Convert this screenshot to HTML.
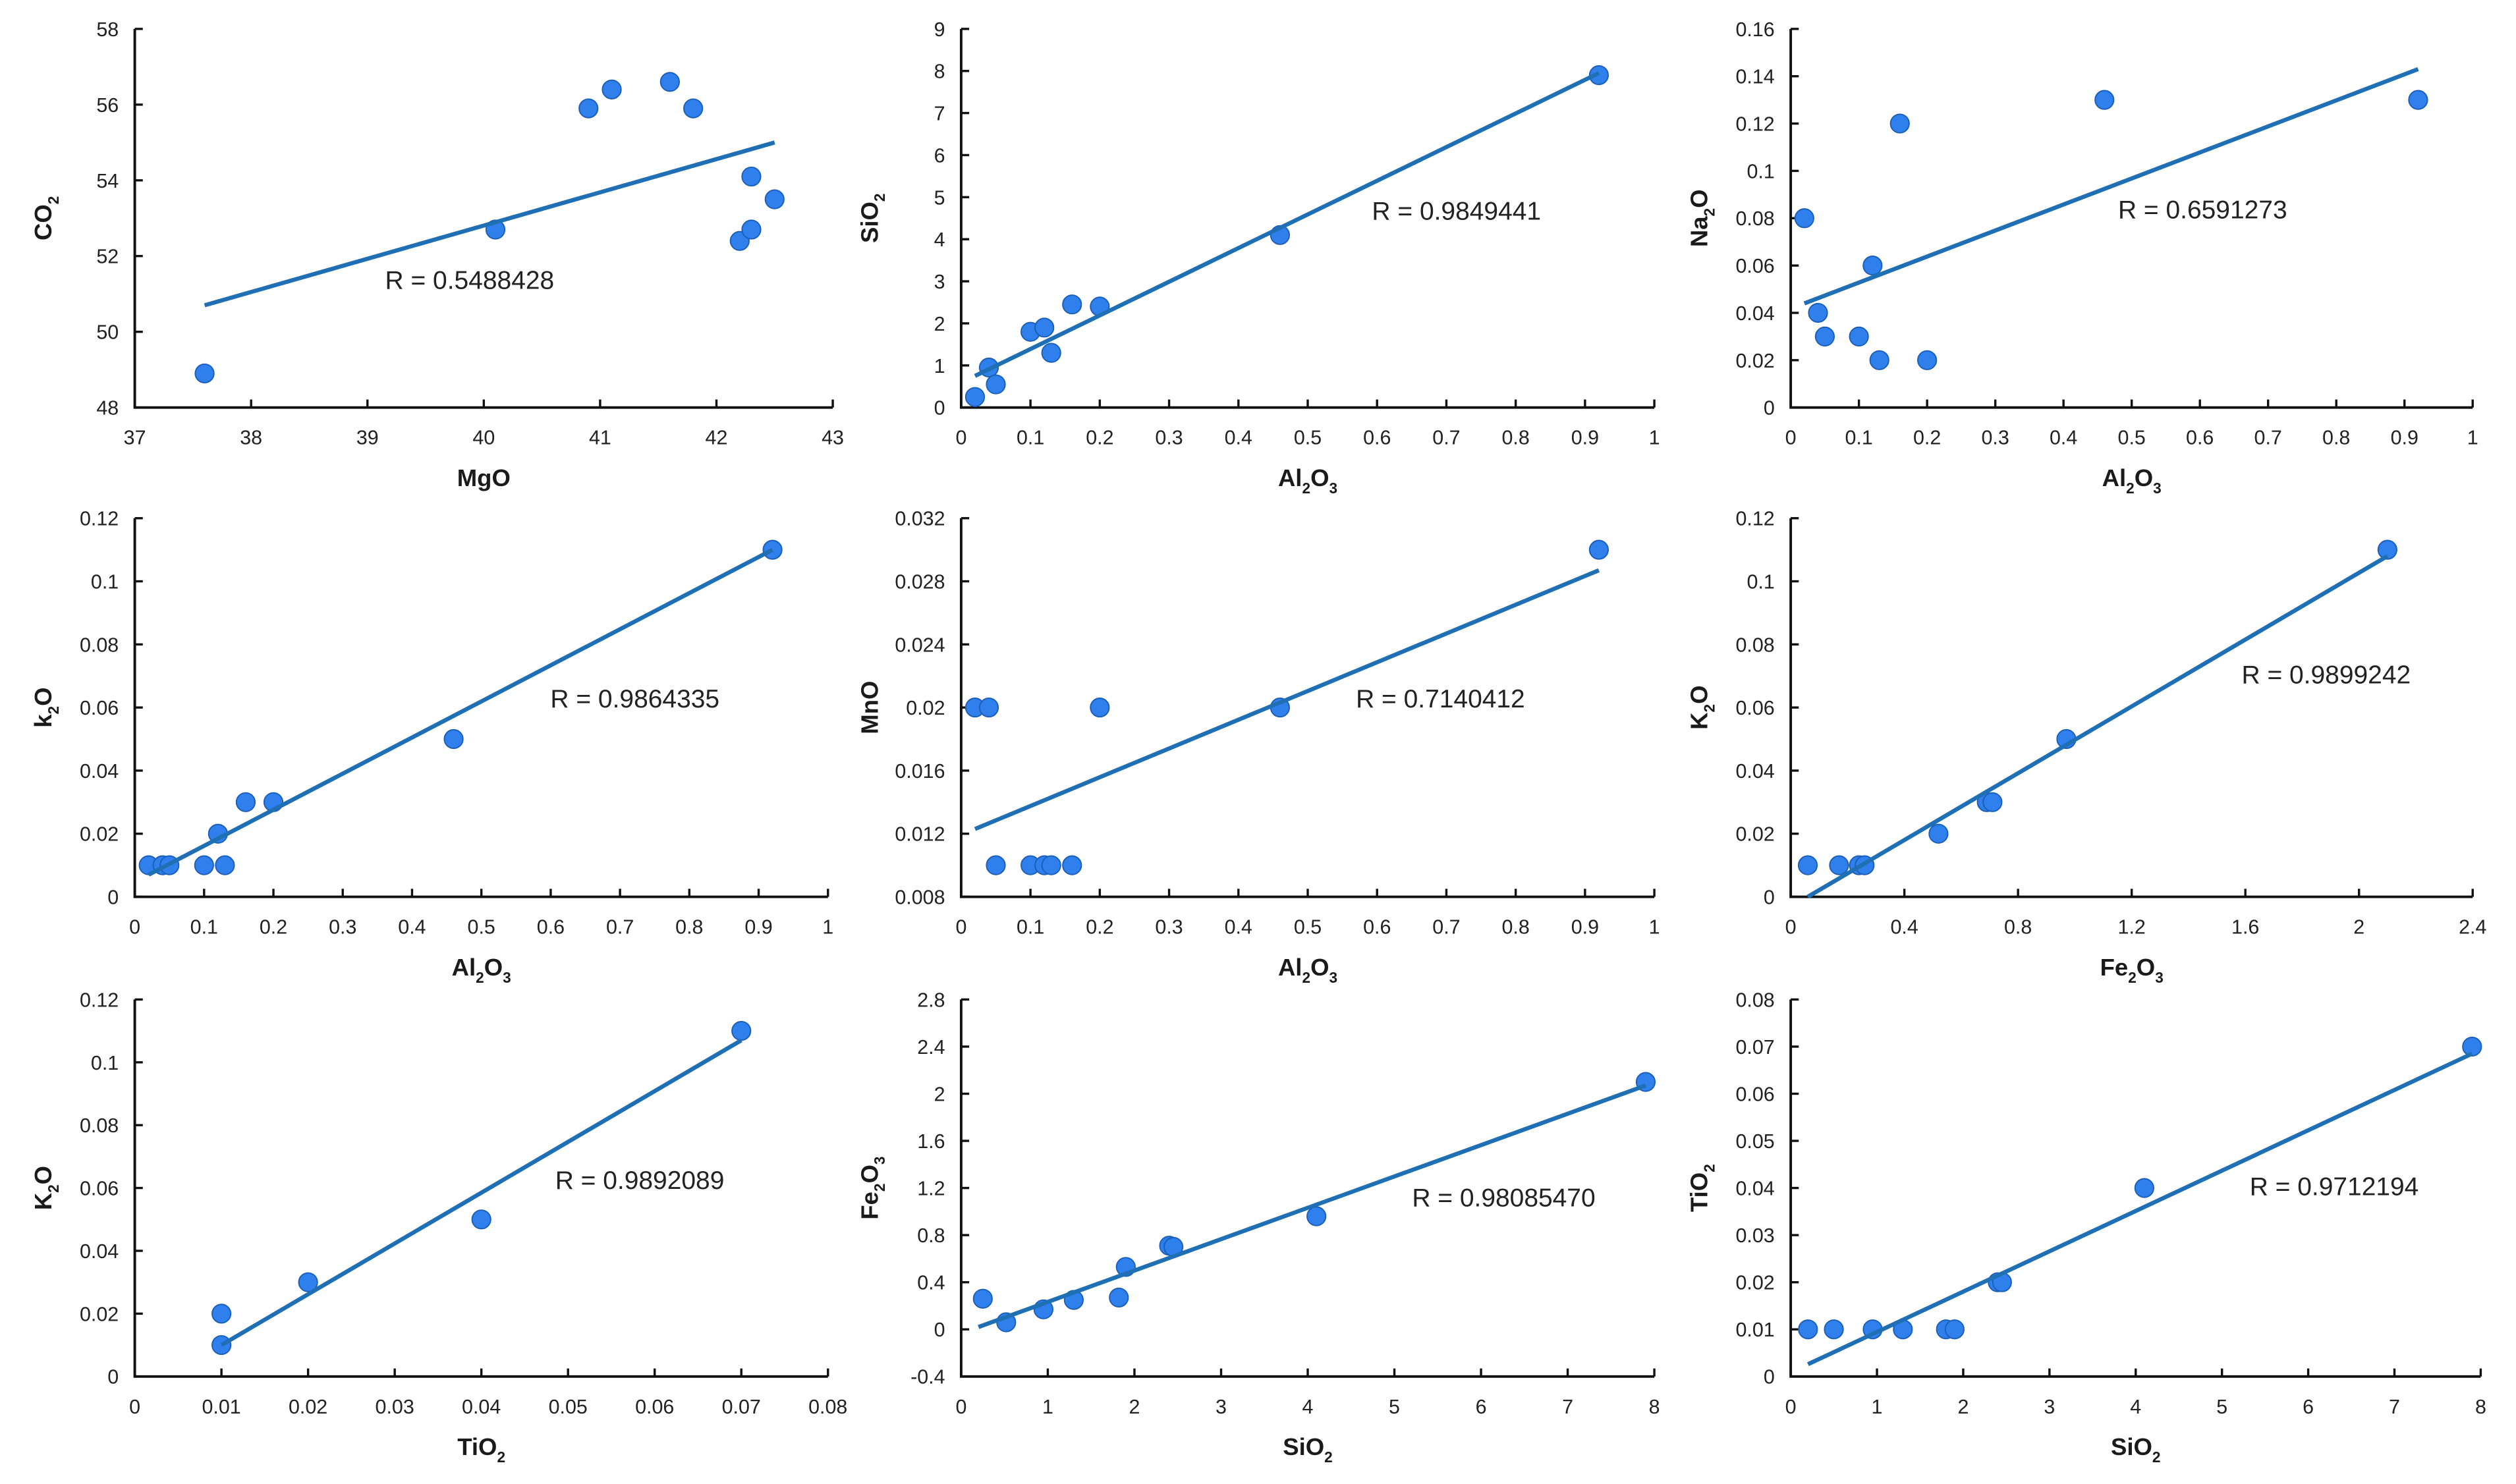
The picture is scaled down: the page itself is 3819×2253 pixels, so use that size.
<!DOCTYPE html>
<html><head><meta charset="utf-8"><style>
html,body{margin:0;padding:0;background:#fff}
svg{display:block}
text{font-family:"Liberation Sans",sans-serif}
</style></head><body>
<svg id="c" width="3819" height="2253" viewBox="0 0 1568 925" xmlns="http://www.w3.org/2000/svg"></svg>
<script>
// ---- data arrays ----
const p1x=[37.6,40.1,40.9,41.1,41.6,41.8,42.2,42.3,42.3,42.5];
const p1y=[48.9,52.7,55.9,56.4,56.6,55.9,52.4,52.7,54.1,53.5];
const p1fit=[[37.6,50.7],[42.5,55.0]];
const p2x=[0.02,0.04,0.05,0.1,0.12,0.13,0.16,0.2,0.46,0.92];
const p2y=[0.25,0.95,0.55,1.8,1.9,1.3,2.45,2.4,4.1,7.9];
const p2fit=[[0.02,0.75],[0.92,7.95]];
const p3x=[0.02,0.04,0.05,0.1,0.12,0.13,0.16,0.2,0.46,0.92];
const p3y=[0.08,0.04,0.03,0.03,0.06,0.02,0.12,0.02,0.13,0.13];
const p3fit=[[0.02,0.044],[0.92,0.143]];
const p4x=[0.02,0.04,0.05,0.1,0.12,0.13,0.16,0.2,0.46,0.92];
const p4y=[0.01,0.01,0.01,0.01,0.02,0.01,0.03,0.03,0.05,0.11];
const p4fit=[[0.02,0.007],[0.92,0.11]];
const p5x=[0.02,0.04,0.05,0.1,0.12,0.13,0.16,0.2,0.46,0.92];
const p5y=[0.02,0.02,0.01,0.01,0.01,0.01,0.01,0.02,0.02,0.03];
const p5fit=[[0.02,0.0123],[0.92,0.0287]];
const p6x=[0.06,0.17,0.24,0.26,0.52,0.69,0.71,0.97,2.1];
const p6y=[0.01,0.01,0.01,0.01,0.02,0.03,0.03,0.05,0.11];
const p6fit=[[0.06,0.0],[2.1,0.108]];
const p7x=[0.01,0.01,0.02,0.04,0.07];
const p7y=[0.01,0.02,0.03,0.05,0.11];
const p7fit=[[0.01,0.01],[0.07,0.107]];
const p8x=[0.25,0.52,0.95,1.3,1.82,1.9,2.4,2.45,4.1,7.9];
const p8y=[0.26,0.06,0.17,0.25,0.27,0.53,0.71,0.7,0.96,2.1];
const p8fit=[[0.2,0.02],[7.9,2.07]];
const p9x=[0.2,0.5,0.95,1.3,1.8,1.9,2.4,2.45,4.1,7.9];
const p9y=[0.01,0.01,0.01,0.01,0.01,0.01,0.02,0.02,0.04,0.07];
const p9fit=[[0.2,0.0026],[7.9,0.0685]];
const rLabels=["R = 0.5488428","R = 0.9849441","R = 0.6591273","R = 0.9864335","R = 0.7140412","R = 0.9899242","R = 0.9892089","R = 0.98085470","R = 0.9712194"];
const tk01=["0","0.1","0.2","0.3","0.4","0.5","0.6","0.7","0.8","0.9","1"];

const NS="http://www.w3.org/2000/svg";
const svg=document.getElementById('c');
function mk(tag,at,parent){const e=document.createElementNS(NS,tag);for(const k in at)e.setAttribute(k,at[k]);(parent||svg).appendChild(e);return e;}
function label(parent,x,y,base,sub,tail,size,weight,anchor,rot){
  const t=mk('text',{x:x,y:y,'font-size':size,'font-weight':weight,'text-anchor':anchor,fill:'#1a1a1a'},parent);
  if(rot)t.setAttribute('transform','rotate(-90 '+x+' '+y+')');
  t.appendChild(document.createTextNode(base));
  if(sub){const s=mk('tspan',{'font-size':size*0.62,dy:size*0.3},t);s.textContent=sub;}
  if(tail){const s=mk('tspan',{'font-size':size,dy:-size*0.3},t);s.textContent=tail;}
  return t;
}
// panels: axis box (thumbnail coords)
const panels=[
 {x0:84,x1:519,y0:18,y1:254,xmin:37,xmax:43,xt:["37","38","39","40","41","42","43"],ymin:48,ymax:58,yt:["48","50","52","54","56","58"],xs:p1x,ys:p1y,fit:p1fit,xl:["MgO","",""],yl:["CO","2",""],rx:240,ry:180},
 {x0:599,x1:1031,y0:18,y1:254,xmin:0,xmax:1,xt:tk01,ymin:0,ymax:9,yt:["0","1","2","3","4","5","6","7","8","9"],xs:p2x,ys:p2y,fit:p2fit,xl:["Al","2","O3"],yl:["SiO","2",""],rx:855,ry:137},
 {x0:1116,x1:1541,y0:18,y1:254,xmin:0,xmax:1,xt:tk01,ymin:0,ymax:0.16,yt:["0","0.02","0.04","0.06","0.08","0.1","0.12","0.14","0.16"],xs:p3x,ys:p3y,fit:p3fit,xl:["Al","2","O3"],yl:["Na","2","O"],rx:1320,ry:136},
 {x0:84,x1:516,y0:323,y1:559,xmin:0,xmax:1,xt:tk01,ymin:0,ymax:0.12,yt:["0","0.02","0.04","0.06","0.08","0.1","0.12"],xs:p4x,ys:p4y,fit:p4fit,xl:["Al","2","O3"],yl:["k","2","O"],rx:343,ry:441},
 {x0:599,x1:1031,y0:323,y1:559,xmin:0,xmax:1,xt:tk01,ymin:0.008,ymax:0.032,yt:["0.008","0.012","0.016","0.02","0.024","0.028","0.032"],xs:p5x,ys:p5y,fit:p5fit,xl:["Al","2","O3"],yl:["MnO","",""],rx:845,ry:441},
 {x0:1116,x1:1541,y0:323,y1:559,xmin:0,xmax:2.4,xt:["0","0.4","0.8","1.2","1.6","2","2.4"],ymin:0,ymax:0.12,yt:["0","0.02","0.04","0.06","0.08","0.1","0.12"],xs:p6x,ys:p6y,fit:p6fit,xl:["Fe","2","O3"],yl:["K","2","O"],rx:1397,ry:426},
 {x0:84,x1:516,y0:623,y1:858,xmin:0,xmax:0.08,xt:["0","0.01","0.02","0.03","0.04","0.05","0.06","0.07","0.08"],ymin:0,ymax:0.12,yt:["0","0.02","0.04","0.06","0.08","0.1","0.12"],xs:p7x,ys:p7y,fit:p7fit,xl:["TiO","2",""],yl:["K","2","O"],rx:346,ry:741},
 {x0:599,x1:1031,y0:623,y1:858,xmin:0,xmax:8,xt:["0","1","2","3","4","5","6","7","8"],ymin:-0.4,ymax:2.8,yt:["-0.4","0","0.4","0.8","1.2","1.6","2","2.4","2.8"],xs:p8x,ys:p8y,fit:p8fit,xl:["SiO","2",""],yl:["Fe","2","O3"],rx:880,ry:752},
 {x0:1116,x1:1546,y0:623,y1:858,xmin:0,xmax:8,xt:["0","1","2","3","4","5","6","7","8"],ymin:0,ymax:0.08,yt:["0","0.01","0.02","0.03","0.04","0.05","0.06","0.07","0.08"],xs:p9x,ys:p9y,fit:p9fit,xl:["SiO","2",""],yl:["TiO","2",""],rx:1402,ry:745}
];
panels.forEach((p,i)=>{
  const g=mk('g',{});
  
  
  const sx=v=>p.x0+(v-p.xmin)/(p.xmax-p.xmin)*(p.x1-p.x0);
  const sy=v=>p.y1-(v-p.ymin)/(p.ymax-p.ymin)*(p.y1-p.y0);
  const ax=mk('path',{d:`M${p.x0},${p.y0}V${p.y1}H${p.x1}`,fill:'none',stroke:'#111','stroke-width':1.6},g);
  
  
  p.xt.forEach(t=>{const x=sx(parseFloat(t));
    mk('line',{x1:x,x2:x,y1:p.y1,y2:p.y1-5,stroke:'#111','stroke-width':1.4},g);
    const tx=mk('text',{x:x,y:p.y1+23,'font-size':12.5,'text-anchor':'middle',fill:'#222'},g);tx.textContent=t;
    
    
  });
  p.yt.forEach(t=>{const y=sy(parseFloat(t));
    mk('line',{x1:p.x0,x2:p.x0+5,y1:y,y2:y,stroke:'#111','stroke-width':1.4},g);
    const tx=mk('text',{x:p.x0-10,y:y+4.5,'font-size':12.5,'text-anchor':'end',fill:'#222'},g);tx.textContent=t;
    
    
  });
  const xsub=p.xl[2]==="O3";
  const xt=xsub?label(g,(p.x0+p.x1)/2,p.y1+49,p.xl[0],"2","O",15,'bold','middle'):label(g,(p.x0+p.x1)/2,p.y1+49,p.xl[0],p.xl[1],"",15,'bold','middle');
  if(xsub){const s=mk('tspan',{'font-size':9.3,dy:4.5},xt);s.textContent="3";}
  
  
  const yx=p.x0-52, yy=(p.y0+p.y1)/2;
  let yt;
  if(p.yl[2]==="O3"){yt=label(g,yx,yy,p.yl[0],"2","O",15,'bold','middle',true);const s=mk('tspan',{'font-size':9.3,dy:4.5},yt);s.textContent="3";}
  else yt=label(g,yx,yy,p.yl[0],p.yl[1],p.yl[2],15,'bold','middle',true);
  
  
  p.xs.forEach((v,j)=>{const c=mk('circle',{cx:sx(v),cy:sy(p.ys[j]),r:5.8,fill:'#2f80ec',stroke:'#1b5fb8','stroke-width':0.8},g);
    
    });
  const ln=mk('line',{x1:sx(p.fit[0][0]),y1:sy(p.fit[0][1]),x2:sx(p.fit[1][0]),y2:sy(p.fit[1][1]),stroke:'#1f6fb5','stroke-width':2.6},g);
  
  
  const rt=mk('text',{x:p.rx,y:p.ry,'font-size':16,fill:'#222'},g);rt.textContent=rLabels[i];
  
  
});
</script>
</body></html>
